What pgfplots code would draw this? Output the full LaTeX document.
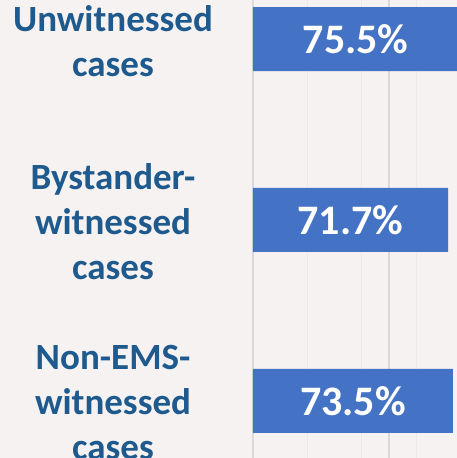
\documentclass[border=0pt]{standalone}
\usepackage{pgfplots}
\pgfplotsset{compat=1.18}
\usepackage{fontspec}
\setmainfont{Carlito}
\definecolor{bg}{HTML}{F5F2F1}
\definecolor{barblue}{HTML}{4472C4}
\definecolor{lblblue}{HTML}{1F5A8E}
\definecolor{gridmaj}{HTML}{D9D9D9}
\definecolor{gridmin}{HTML}{ECEAE9}
\begin{document}
\begin{tikzpicture}[x=1pt,y=1pt]
\useasboundingbox (0,0) rectangle (457,458);
\clip (0,0) rectangle (457,458);
\fill[bg] (0,0) rectangle (457,458);
\begin{axis}[
  at={(253pt,0pt)}, anchor=south west,
  scale only axis, width=204pt, height=458pt,
  xmin=0, xmax=75,
  ymin=-0.2155, ymax=2.315, y dir=reverse,
  xbar, bar width=64pt,
  axis line style={draw=none},
  xtick={0,50}, xticklabels={}, 
  xmajorgrids, major grid style={gridmaj, line width=1.3pt},
  extra x ticks={20,40,60}, extra x tick labels={},
  extra x tick style={grid=major, major grid style={gridmin, line width=1pt}, major tick length=0pt},
  major tick length=0pt,
  ytick={0,1,2},
  yticklabels={{Unwitnessed\\cases},{Bystander-\\witnessed\\cases},{Non-EMS-\\witnessed\\cases}},
  yticklabel style={anchor=center, xshift=-140pt, yshift=-2pt, align=center, text=lblblue,
    font=\fontsize{37}{45}\selectfont\bfseries},
  point meta=explicit symbolic,
  visualization depends on={rawx \as \rawx},
  nodes near coords={\pgfplotspointmeta\%},
  nodes near coords style={anchor=center, text=white, font=\fontsize{42}{48}\selectfont\bfseries,
    xshift={-1.36pt*\rawx}},
  clip=false,
]
\addplot[fill=barblue, draw=none] coordinates {(75.5,0) [75.5] (71.7,1) [71.7] (73.5,2) [73.5]};
\end{axis}
\end{tikzpicture}
\end{document}
